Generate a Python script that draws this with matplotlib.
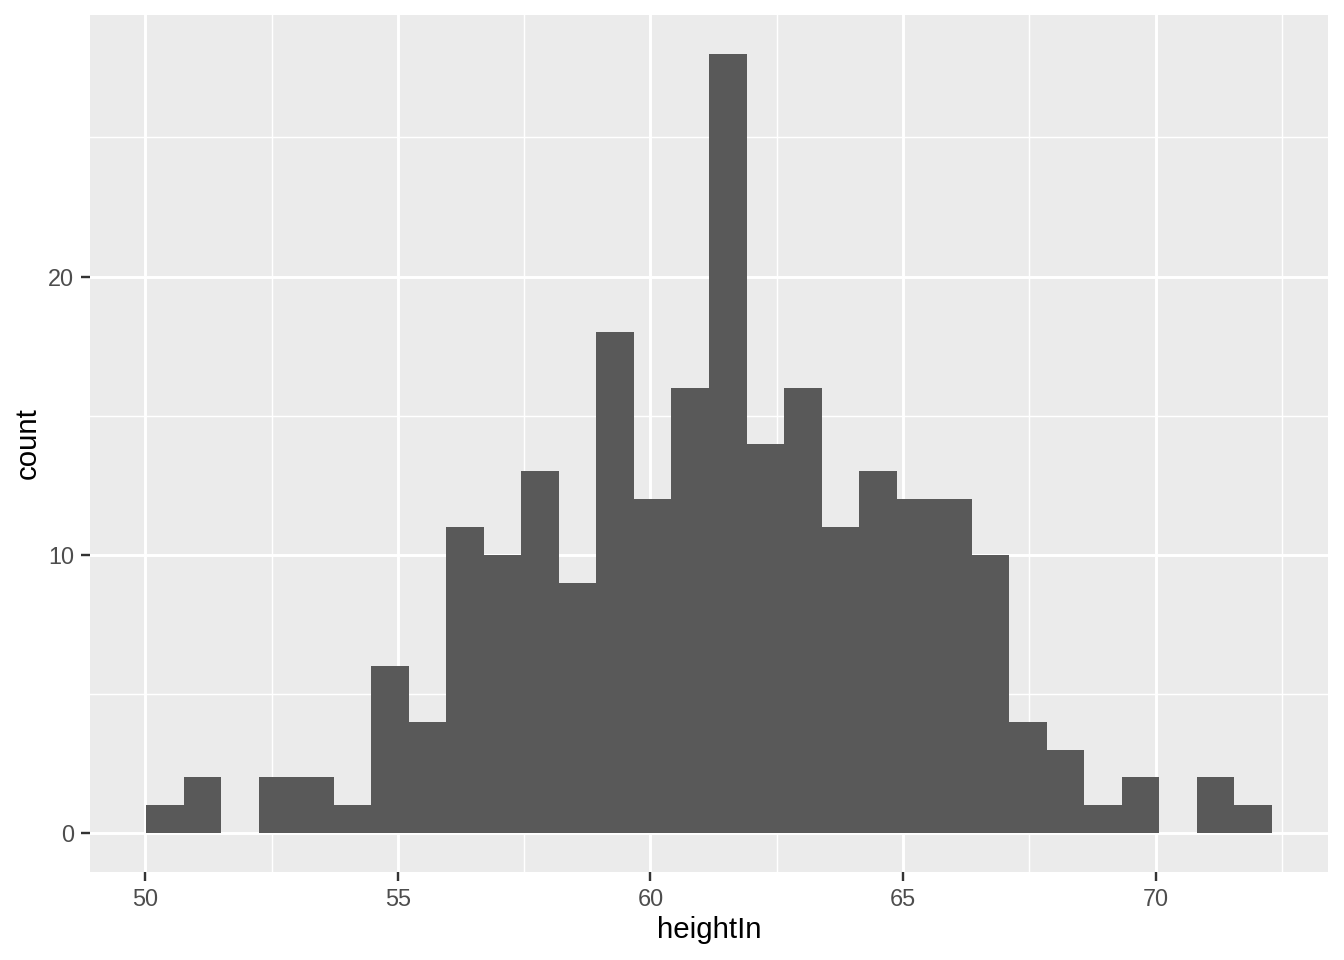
import numpy as np
import matplotlib
matplotlib.use("Agg")
import matplotlib.pyplot as plt

# histogram of heightIn, 30 bins
bin_lo = 50.02
bin_hi = 72.30
counts = [1, 2, 0, 2, 2, 1, 6, 4, 11, 10, 13, 9, 18, 12, 16,
          28, 14, 16, 11, 13, 12, 12, 10, 4, 3, 1, 2, 0, 2, 1]
xticks = [50, 55, 60, 65, 70]
yticks = [0, 10, 20]

plt.rcParams['font.family'] = ['Liberation Sans', 'DejaVu Sans']

edges = np.linspace(bin_lo, bin_hi, len(counts) + 1)
widths = np.diff(edges)

fig = plt.figure(figsize=(7, 5), dpi=192)
ax = fig.add_axes([90/1344, 1 - 872/960, (1328 - 90)/1344, (872 - 15)/960])
ax.set_facecolor('#EBEBEB')

xr = bin_hi - bin_lo
ax.set_xlim(bin_lo - 0.05*xr, bin_hi + 0.05*xr)
ymax = max(counts)
ax.set_ylim(-0.05*ymax, ymax*1.05)

for xm in [52.5, 57.5, 62.5, 67.5, 72.5]:
    ax.axvline(xm, color='white', lw=0.55, zorder=0)
for ym in [5, 15, 25]:
    ax.axhline(ym, color='white', lw=0.55, zorder=0)
for xv in xticks:
    ax.axvline(xv, color='white', lw=1.1, zorder=0)
for yv in yticks:
    ax.axhline(yv, color='white', lw=1.1, zorder=0)

ax.bar(edges[:-1], counts, width=widths, align='edge', color='#595959',
       edgecolor='none', linewidth=0, zorder=2)

ax.set_xticks(xticks)
ax.set_yticks(yticks)
ax.tick_params(axis='both', length=3.5, width=0.9, color='#333333',
               labelcolor='#4D4D4D', labelsize=8.8, pad=2.5)
for s in ax.spines.values():
    s.set_visible(False)

ax.set_xlabel('heightIn', fontsize=11, color='black', labelpad=2)
ax.set_ylabel('count', fontsize=11, color='black', labelpad=2.5)

fig.savefig('out.png', dpi=192)
